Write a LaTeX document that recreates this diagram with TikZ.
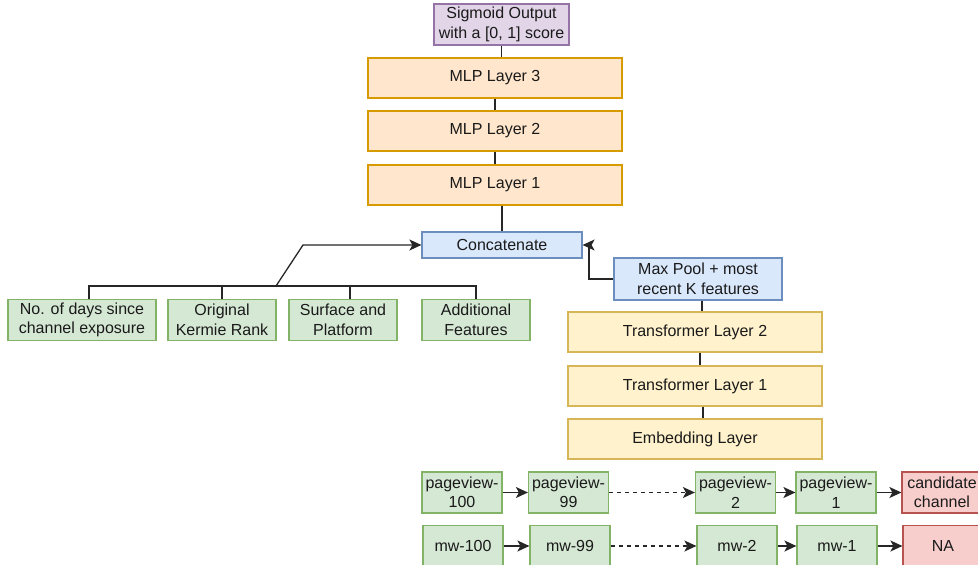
\documentclass[tikz,border=0pt]{standalone}
\usepackage{fontspec}
\setmainfont{Liberation Sans}
\usetikzlibrary{arrows.meta}
\definecolor{txt}{HTML}{1A1A1A}
\definecolor{pfill}{HTML}{E1D5E7}\definecolor{pline}{HTML}{9673A6}
\definecolor{ofill}{HTML}{FFE6CC}\definecolor{oline}{HTML}{D79B00}
\definecolor{bfill}{HTML}{DAE8FC}\definecolor{bline}{HTML}{6C8EBF}
\definecolor{yfill}{HTML}{FFF2CC}\definecolor{yline}{HTML}{D6B656}
\definecolor{gfill}{HTML}{D5E8D4}\definecolor{gline}{HTML}{82B366}
\definecolor{rfill}{HTML}{F8CECC}\definecolor{rline}{HTML}{B85450}
\tikzset{
  box/.style={draw, line width=1.2pt, inner sep=0pt, align=center, text=txt,
    font=\fontsize{16}{19.5}\selectfont},
  purplebox/.style={box, fill=pfill, draw=pline},
  orangebox/.style={box, fill=ofill, draw=oline, minimum width=254pt, minimum height=40pt},
  bluebox/.style={box, fill=bfill, draw=bline},
  yellowbox/.style={box, fill=yfill, draw=yline, minimum width=254pt, minimum height=40pt},
  greenbox/.style={box, fill=gfill, draw=gline, minimum height=41pt},
  redbox/.style={box, fill=rfill, draw=rline, minimum height=41pt, minimum width=80pt},
  seqbox/.style={greenbox, minimum width=80pt},
  line/.style={draw=black!85, line width=1.3pt},
  arrow/.style={line, -{Stealth[length=12pt,width=11pt,inset=3pt]}},
  dasharrow/.style={arrow, dash pattern=on 4pt off 4pt}
}
\begin{document}
\begin{tikzpicture}[x=1pt,y=-1pt]
\useasboundingbox (0,0) rectangle (978,565);
\clip (0,0) rectangle (978,565);
% top stack
\node[purplebox, minimum width=135pt, minimum height=41pt] (sig) at (501.5,24.5) {Sigmoid Output\\with a [0, 1] score};
\node[orangebox] (m3) at (495,78) {MLP Layer 3};
\node[orangebox] (m2) at (495,131) {MLP Layer 2};
\node[orangebox] (m1) at (495,185) {MLP Layer 1};
\node[bluebox, minimum width=160pt, minimum height=26pt] (cat) at (502,245) {Concatenate};
% features
\node[greenbox, minimum width=148pt] (f1) at (82,320) {No. of days since\\channel exposure};
\node[greenbox, minimum width=108pt] (f2) at (222,320) {Original\\Kermie Rank};
\node[greenbox, minimum width=108pt] (f3) at (343,320) {Surface and\\Platform};
\node[greenbox, minimum width=108pt] (f4) at (476,320) {Additional\\Features};
% transformer stack
\node[bluebox, minimum width=168pt, minimum height=42pt] (mp) at (698,279) {Max Pool + most\\recent K features};
\node[yellowbox] (t2) at (695,332) {Transformer Layer 2};
\node[yellowbox] (t1) at (695,386) {Transformer Layer 1};
\node[yellowbox] (emb) at (695,439) {Embedding Layer};
% sequences
\node[seqbox] (p100) at (462,492.5) {pageview-\\100};
\node[seqbox] (p99) at (568.5,492.5) {pageview-\\99};
\node[seqbox] (p2) at (735.5,492.5) {pageview-\\2};
\node[seqbox] (p1) at (836,492.5) {pageview-\\1};
\node[redbox] (cand) at (942,492.5) {candidate\\channel};
\node[seqbox] (w100) at (463,546) {mw-100};
\node[seqbox] (w99) at (570,546) {mw-99};
\node[seqbox] (w2) at (737,546) {mw-2};
\node[seqbox] (w1) at (837,546) {mw-1};
\node[redbox] (na) at (943,546) {NA};
% connectors top
\draw[line] (sig.south) -- (sig.south |- m3.north);
\draw[line] (m3) -- (m2);
\draw[line] (m2) -- (m1);
\draw[line] (m1.south -| cat) -- (cat.north);
% feature bus
\coordinate (bl) at (89,286);
\coordinate (br) at (476,286);
\coordinate (b3) at (350,286);
\coordinate (bj) at (276,286);
\coordinate (bk) at (303,245);
\draw[line] (f1.north -| bl) -- (bl) -- (br) -- (f4.north);
\draw[line] (f2.north) -- (f2.north |- bl);
\draw[line] (f3.north -| b3) -- (b3);
\draw[arrow] (bj) -- (bk) -- (cat.west);
% max pool to concatenate
\coordinate (cj) at (589,245);
\draw[line] (mp.west) -| (cj);
\draw[arrow] (cj) -- (cat.east);
\draw[line] (mp.south -| 702,0) -- (t2.north -| 702,0);
\draw[line] (t2.south -| 700,0) -- (t1.north -| 700,0);
\draw[line] (t1.south -| 703,0) -- (emb.north -| 703,0);
% sequence arrows
\draw[arrow] (p100) -- (p99);
\draw[dasharrow] (p99) -- (p2);
\draw[arrow] (p2) -- (p1);
\draw[arrow] (p1) -- (cand);
\draw[arrow] (w100) -- (w99);
\draw[dasharrow] (w99) -- (w2);
\draw[arrow] (w2) -- (w1);
\draw[arrow] (w1) -- (na);
\end{tikzpicture}
\end{document}
